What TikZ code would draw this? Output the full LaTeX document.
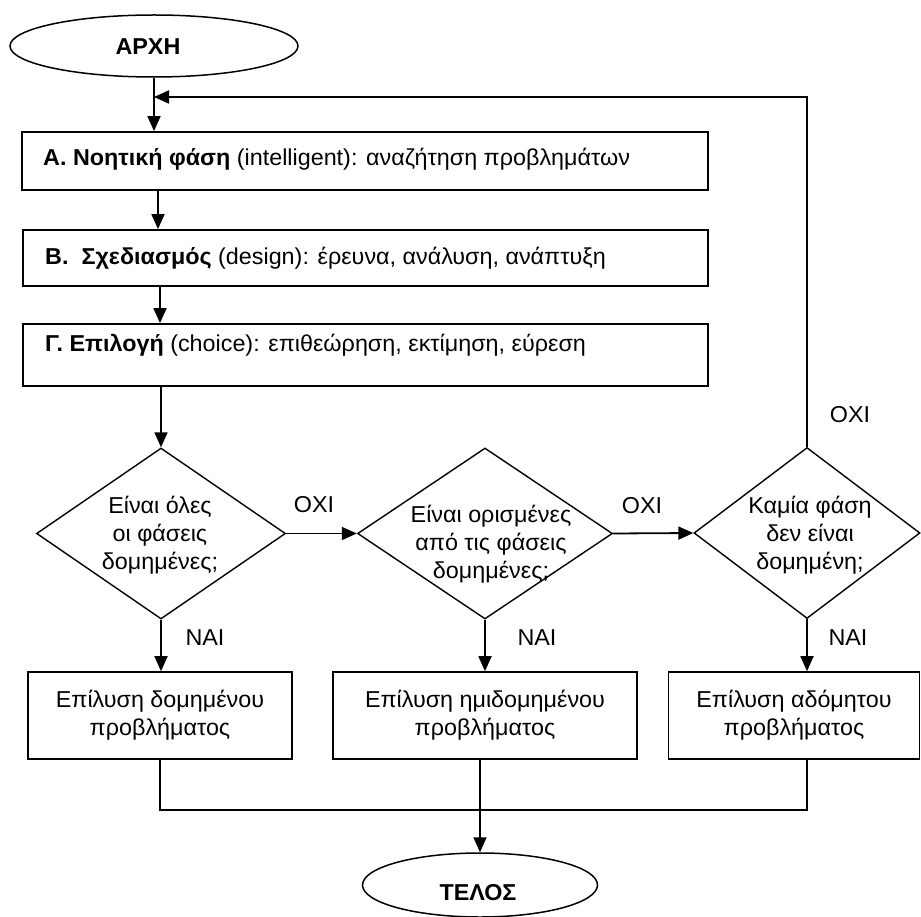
\documentclass[tikz,border=0pt]{standalone}
\usepackage{fontspec}
\setmainfont{Liberation Sans}[FakeStretch=1.015]
\usetikzlibrary{shapes.geometric,arrows.meta}
\begin{document}
\begin{tikzpicture}[x=1pt,y=-1pt,
  font=\fontsize{23}{28}\selectfont,
  every node/.style={inner sep=0pt},
  stagebox/.style={draw,line width=1.8pt,minimum height=#1},
  resultbox/.style={draw,line width=1.6pt,minimum height=87,align=center},
  decision/.style={draw,diamond,line width=1.4pt},
  terminal/.style={draw,ellipse,line width=1.5pt},
  termtext/.style={font=\fontsize{23}{28}\selectfont\bfseries},
  arrow/.style={line width=1.8pt,-{Triangle[length=15pt,width=13pt]}},
  plain/.style={line width=1.5pt},
  tag/.style={anchor=center}]
\useasboundingbox (0,0) rectangle (921,917);

% start / end terminals
\node[terminal,minimum width=288,minimum height=62] (start) at (154,46) {};
\node[termtext] at (148,47) {ΑΡΧΗ};
\node[terminal,minimum width=235,minimum height=64] (end) at (480,885) {};
\node[termtext] at (478,893) {ΤΕΛΟΣ};

% the three phases
\node[stagebox=58,minimum width=686] (pa) at (365,161) {};
\node[anchor=base west] at (43,165.5) {\textbf{Α. Νοητική φάση} (intelligent): αναζήτηση προβλημάτων};
\node[stagebox=56,minimum width=685] (pb) at (365.5,258) {};
\node[anchor=base west] at (45,265) {\textbf{Β.\ \ Σχεδιασμός} (design): έρευνα, ανάλυση, ανάπτυξη};
\node[stagebox=62,minimum width=685] (pc) at (365.5,355) {};
\node[anchor=base west] at (45,351.5) {\textbf{Γ. Επιλογή} (choice): επιθεώρηση, εκτίμηση, εύρεση};

% decisions
\node[decision,minimum width=249,minimum height=171] (d1) at (161,533.5) {};
\node[align=center] at (160,535) {Είναι όλες\\ οι φάσεις\\ δομημένες;};
\node[decision,minimum width=255,minimum height=171] (d2) at (485,533.5) {};
\node[align=center] at (491,544) {Είναι ορισμένες\\ από τις φάσεις\\ δομημένες;};
\node[decision,minimum width=226,minimum height=171] (d3) at (807,533) {};
\node[align=center] at (810,535) {Καμία φάση\\ δεν είναι\\ δομημένη;};

% outcomes
\node[resultbox,minimum width=264] (b1) at (160,715.5) {Επίλυση δομημένου\\ προβλήματος};
\node[resultbox,minimum width=304] (b2) at (485,715.5) {Επίλυση ημιδομημένου\\ προβλήματος};
\node[resultbox,minimum width=251] (b3) at (794,715.5) {Επίλυση αδόμητου\\ προβλήματος};

% branch labels
\node[tag] at (314,505) {ΟΧΙ};
\node[tag] at (642,506) {ΟΧΙ};
\node[tag] at (850,415) {ΟΧΙ};
\node[tag] at (205,638) {ΝΑΙ};
\node[tag] at (537,638) {ΝΑΙ};
\node[tag] at (848,638) {ΝΑΙ};

% helper coordinates for the loop and the collecting line
\coordinate (loop) at (0,97);
\coordinate (bus) at (0,810);

% main flow
\draw[arrow] (start.south) -- (start.south |- pa.north);
\draw[arrow] (158,190) coordinate (paout) -- (paout |- pb.north);
\draw[arrow] (160,286) coordinate (pbout) -- (pbout |- pc.north);
\draw[arrow] (d1.north |- pc.south) -- (d1.north);
\draw[arrow] (d1.east) -- (d2.west);
\draw[arrow] (d2.east) -- (d3.west);
\draw[arrow] (d3.north) |- (start.south |- loop);
\draw[arrow] (d1.south) -- (d1.south |- b1.north);
\draw[arrow] (d2.south) -- (d2.south |- b2.north);
\draw[arrow] (d3.south) -- (d3.south |- b3.north);

% joining the outcomes
\draw[plain] (b1.south) -- (b1.south |- bus) -- (d3.south |- bus) -- (d3.south |- b3.south);
\draw[arrow] (end.north |- b2.south) -- (end.north);
\end{tikzpicture}
\end{document}
